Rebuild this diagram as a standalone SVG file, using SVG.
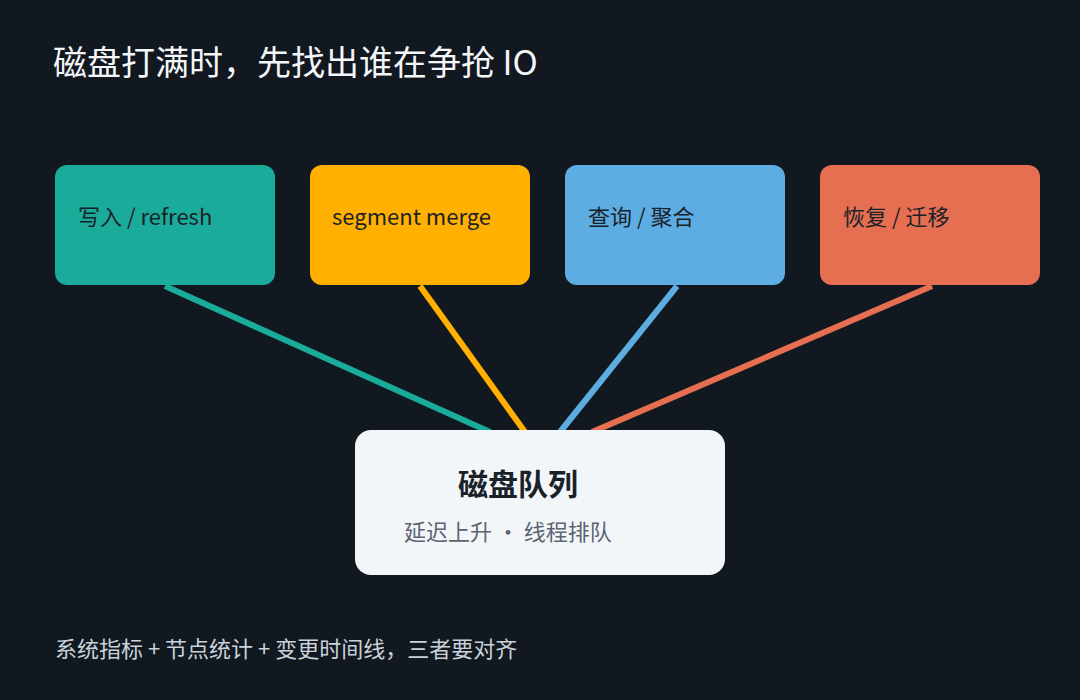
<svg xmlns="http://www.w3.org/2000/svg" width="1080" height="700" viewBox="0 0 1080 700">
<style>
text{font-family:"Noto Sans CJK SC","Noto Sans",sans-serif}
.t{font-size:22px;fill:#1a2229}
.c{stroke-width:6;fill:none}
</style>
<rect width="1080" height="700" fill="#111820"/>
<text x="53" y="75" font-size="34" fill="#f4f6f8">磁盘打满时，先找出谁在争抢 IO</text>
<g id="connectors">
<line class="c" x1="165" y1="286" x2="490" y2="432" stroke="#1aab9b"/>
<line class="c" x1="420" y1="286" x2="525" y2="432" stroke="#ffb000"/>
<line class="c" x1="677" y1="286" x2="560" y2="432" stroke="#5dade2"/>
<line class="c" x1="932" y1="286" x2="592" y2="432" stroke="#e76f51"/>
</g>
<g id="n1"><rect x="55" y="165" width="220" height="120" rx="12" fill="#1aab9b"/><text class="t" x="78" y="225">写入 / refresh</text></g>
<g id="n2"><rect x="310" y="165" width="220" height="120" rx="12" fill="#ffb000"/><text class="t" x="332" y="225">segment merge</text></g>
<g id="n3"><rect x="565" y="165" width="220" height="120" rx="12" fill="#5dade2"/><text class="t" x="588" y="225">查询 / 聚合</text></g>
<g id="n4"><rect x="820" y="165" width="220" height="120" rx="12" fill="#e76f51"/><text class="t" x="843" y="225">恢复 / 迁移</text></g>
<g id="center"><rect x="355" y="430" width="370" height="145" rx="16" fill="#f2f6f9"/>
<text x="518" y="495" font-size="30" font-weight="bold" fill="#1a2229" text-anchor="middle">磁盘队列</text>
<text x="404" y="540" font-size="22" fill="#5b6470">延迟上升 ·   线程排队</text></g>
<text x="55" y="657" font-size="22" fill="#c9d1d9">系统指标 + 节点统计 + 变更时间线，三者要对齐</text>
</svg>
